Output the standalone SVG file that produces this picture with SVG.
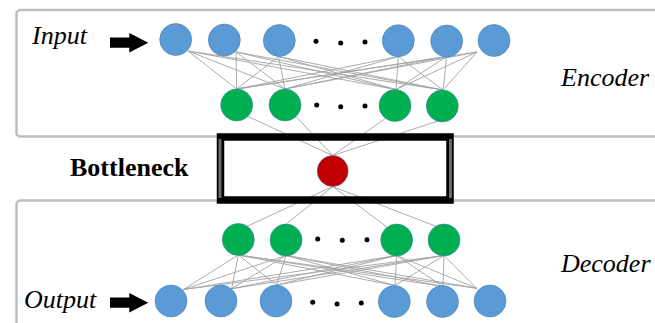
<svg xmlns="http://www.w3.org/2000/svg" width="655" height="323" viewBox="0 0 655 323">
<style>
.panel{fill:#fff;stroke:#bfbfbf;stroke-width:2.5}
.c line{stroke:#a3a3a3;stroke-width:0.9}
.blue{fill:#5b9bd5;stroke:#4a7fb5;stroke-width:0.6}
.green{fill:#00b050;stroke:#3d7fae;stroke-width:0.6}
.red{fill:#c00000;stroke:#5a6ea8;stroke-width:0.6}
.dot{fill:#000}
.lbl{font-family:"Liberation Serif","Times New Roman",serif;font-size:26px;font-style:italic;fill:#000}
.bold{font-family:"Liberation Serif","Times New Roman",serif;font-size:26px;font-weight:bold;fill:#000}
</style>
<rect width="655" height="323" fill="#fff"/>
<g id="encoder-panel"><rect class="panel" x="16.5" y="10" width="700" height="126.5" rx="4"/></g>
<g id="decoder-panel"><rect class="panel" x="16.5" y="200.5" width="700" height="200" rx="4"/></g>
<g id="connectors" class="c">
<line x1="188" y1="51" x2="236.7" y2="89"/><line x1="188" y1="51" x2="285" y2="89"/><line x1="188" y1="51" x2="396" y2="89.5"/><line x1="188" y1="51" x2="443" y2="90"/>
<line x1="236" y1="52" x2="236.7" y2="89"/><line x1="236" y1="52" x2="285" y2="89"/><line x1="236" y1="52" x2="396" y2="89.5"/><line x1="236" y1="52" x2="443" y2="90"/>
<line x1="278.5" y1="56.5" x2="236.7" y2="89"/><line x1="278.5" y1="56.5" x2="285" y2="89"/><line x1="278.5" y1="56.5" x2="396" y2="89.5"/><line x1="278.5" y1="56.5" x2="443" y2="90"/>
<line x1="398.3" y1="56.5" x2="236.7" y2="89"/><line x1="398.3" y1="56.5" x2="285" y2="89"/><line x1="398.3" y1="56.5" x2="396" y2="89.5"/><line x1="398.3" y1="56.5" x2="443" y2="90"/>
<line x1="446.7" y1="56.5" x2="236.7" y2="89"/><line x1="446.7" y1="56.5" x2="285" y2="89"/><line x1="446.7" y1="56.5" x2="396" y2="89.5"/><line x1="446.7" y1="56.5" x2="443" y2="90"/>
<line x1="477" y1="52" x2="236.7" y2="89"/><line x1="477" y1="52" x2="285" y2="89"/><line x1="477" y1="52" x2="396" y2="89.5"/><line x1="477" y1="52" x2="443" y2="90"/>
<line x1="248" y1="116.5" x2="332.7" y2="155.5"/><line x1="296" y1="116.5" x2="332.7" y2="155.5"/><line x1="386" y1="118" x2="332.7" y2="155.5"/><line x1="438" y1="121" x2="332.7" y2="155.5"/>
<line x1="332.7" y1="186.5" x2="247" y2="226.4"/><line x1="332.7" y1="186.5" x2="287" y2="223.5"/><line x1="332.7" y1="186.5" x2="387" y2="227"/><line x1="332.7" y1="186.5" x2="436" y2="226.3"/>
<line x1="238.3" y1="255" x2="183.3" y2="289.5"/><line x1="238.3" y1="255" x2="231.7" y2="288.7"/><line x1="238.3" y1="255" x2="276.5" y2="285"/><line x1="238.3" y1="255" x2="395" y2="285.5"/><line x1="238.3" y1="255" x2="443" y2="286.5"/><line x1="238.3" y1="255" x2="476.7" y2="288.3"/>
<line x1="286" y1="255.5" x2="183.3" y2="289.5"/><line x1="286" y1="255.5" x2="231.7" y2="288.7"/><line x1="286" y1="255.5" x2="276.5" y2="285"/><line x1="286" y1="255.5" x2="395" y2="285.5"/><line x1="286" y1="255.5" x2="443" y2="286.5"/><line x1="286" y1="255.5" x2="476.7" y2="288.3"/>
<line x1="396.7" y1="255.5" x2="183.3" y2="289.5"/><line x1="396.7" y1="255.5" x2="231.7" y2="288.7"/><line x1="396.7" y1="255.5" x2="276.5" y2="285"/><line x1="396.7" y1="255.5" x2="395" y2="285.5"/><line x1="396.7" y1="255.5" x2="443" y2="286.5"/><line x1="396.7" y1="255.5" x2="476.7" y2="288.3"/>
<line x1="444" y1="255.5" x2="183.3" y2="289.5"/><line x1="444" y1="255.5" x2="231.7" y2="288.7"/><line x1="444" y1="255.5" x2="276.5" y2="285"/><line x1="444" y1="255.5" x2="395" y2="285.5"/><line x1="444" y1="255.5" x2="443" y2="286.5"/><line x1="444" y1="255.5" x2="476.7" y2="288.3"/>
</g>
<g id="bottleneck">
<rect x="220.5" y="137" width="229.5" height="63" fill="none" stroke="#000" stroke-width="7.5"/>
<line x1="220" y1="139" x2="220" y2="198" stroke="#6a6a6a" stroke-width="3"/>
<line x1="450.5" y1="139" x2="450.5" y2="198" stroke="#6a6a6a" stroke-width="3"/>
<text class="bold" x="70" y="176">Bottleneck</text>
</g>
<g id="input-layer">
<circle class="blue" cx="175.7" cy="39.5" r="16"/><circle class="blue" cx="224.3" cy="40" r="16"/><circle class="blue" cx="279.3" cy="40.5" r="16"/>
<circle class="dot" cx="316" cy="41.3" r="2.5"/><circle class="dot" cx="340.7" cy="43" r="2.5"/><circle class="dot" cx="365" cy="42" r="2.5"/>
<circle class="blue" cx="398.3" cy="40.7" r="16"/><circle class="blue" cx="446.7" cy="41" r="16"/><circle class="blue" cx="494" cy="40.5" r="16"/>
</g>
<g id="encoder-hidden">
<circle class="green" cx="236.7" cy="105" r="16"/><circle class="green" cx="285" cy="105" r="16"/>
<circle class="dot" cx="316.7" cy="105" r="2.5"/><circle class="dot" cx="340.7" cy="106.7" r="2.5"/><circle class="dot" cx="365" cy="106" r="2.5"/>
<circle class="green" cx="395" cy="105.5" r="16"/><circle class="green" cx="442.3" cy="106" r="16"/>
</g>
<g id="code"><circle class="red" cx="332.7" cy="171" r="15.5"/></g>
<g id="decoder-hidden">
<circle class="green" cx="238.3" cy="239.5" r="16"/><circle class="green" cx="286" cy="240" r="16"/>
<circle class="dot" cx="317.7" cy="239" r="2.5"/><circle class="dot" cx="342.3" cy="240.3" r="2.5"/><circle class="dot" cx="367" cy="239.7" r="2.5"/>
<circle class="green" cx="396.7" cy="240" r="16"/><circle class="green" cx="444" cy="240" r="16"/>
</g>
<g id="output-layer">
<circle class="blue" cx="171" cy="301" r="16"/><circle class="blue" cx="221" cy="301" r="16"/><circle class="blue" cx="276" cy="301" r="16"/>
<circle class="dot" cx="312.7" cy="302.3" r="2.5"/><circle class="dot" cx="337" cy="304" r="2.5"/><circle class="dot" cx="361.3" cy="303" r="2.5"/>
<circle class="blue" cx="394.3" cy="301.5" r="16"/><circle class="blue" cx="442.5" cy="301.5" r="16"/><circle class="blue" cx="490" cy="301" r="16"/>
</g>
<g id="input-label">
<text class="lbl" x="32" y="43.5">Input</text>
<polygon points="110,37.5 129.3,37.5 129.3,33 148.3,42.7 129.3,52.5 129.3,47.8 110,47.8" fill="#000"/>
</g>
<g id="output-label">
<text class="lbl" x="24" y="308.3">Output</text>
<polygon points="110,297.5 129.3,297.5 129.3,293 148.3,302.7 129.3,312.5 129.3,307.8 110,307.8" fill="#000"/>
</g>
<g id="encoder-label"><text class="lbl" x="561" y="86">Encoder</text></g>
<g id="decoder-label"><text class="lbl" x="561" y="272">Decoder</text></g>
</svg>
